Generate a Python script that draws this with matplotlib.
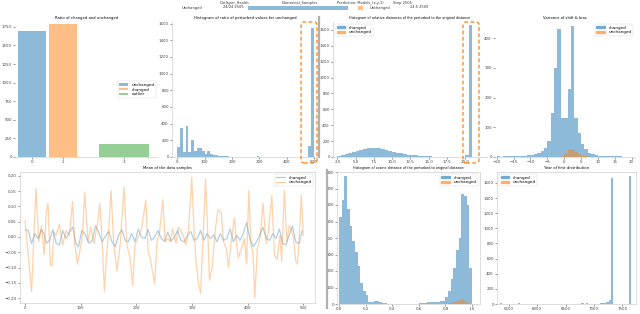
import numpy as np
import matplotlib
matplotlib.use("Agg")
import matplotlib.pyplot as plt
from matplotlib.patches import FancyBboxPatch, Rectangle
from matplotlib.lines import Line2D

plt.rcParams['font.family'] = ['DejaVu Sans']

BLUE = '#1f77b4'
ORANGE = '#ff7f0e'
GREEN = '#2ca02c'

# ---------------- data ----------------
# Panel 1: bar chart
p1_x = [0, 1, 3]
p1_widths = [0.93, 0.9, 1.64]
p1_values = [1695, 1783, 170]
p1_labels = ['unchanged', 'changed', 'outlier']

# Panel 2: histogram (bin width 10, 0..500)
p2_start = 0
p2_width = 10
p2_counts = [121, 345, 62, 368, 62, 200, 70, 110, 103, 75,
             40, 75, 40, 30, 20, 15, 12, 10, 8, 6,
             5, 4, 3, 2, 2, 1, 1, 1, 1, 8,
             5, 0, 0, 0, 0, 0, 0, 0, 0, 0,
             0, 0, 0, 0, 0, 0, 0, 0, 130, 1553]

# Panel 3: histogram (bin width 0.5, 2.5..21)
p3_start = 2.5
p3_width = 0.5
p3_counts = [10, 22, 35, 48, 60, 72, 88, 100, 112, 118,
             115, 108, 100, 88, 78, 65, 55, 45, 36, 30,
             25, 20, 14, 11, 9, 7, 6, 5, 4, 3,
             2, 2, 1, 1, 0, 25, 1660]

# Panel 4: histogram (bin width 1, -20..20)
p4_start = -20
p4_width = 1
p4_changed = [2, 1, 2, 3, 2, 3, 4, 5, 5, 6,
              8, 10, 15, 20, 30, 55, 147, 300, 433, 133,
              133, 230, 440, 133, 80, 45, 27, 15, 10, 7,
              5, 4, 3, 3, 2, 2, 2, 1, 1, 1]
p4_unchanged = [0, 0, 0, 0, 0, 0, 0, 0, 0, 0,
                0, 0, 0, 0, 0, 0, 0, 0, 0, 4,
                10, 22, 27, 18, 10, 5, 3, 0, 0, 0,
                0, 0, 0, 0, 0, 0, 0, 0, 0, 0]

# Panel 5: line series (readings of peaks / troughs)
p5_orange_t = [0, 11.8, 19.5, 24.8, 29.5, 34.2, 38.3, 41.3, 45.4, 48.3, 51.9, 56.0, 61.9, 67.8,
               73.7, 79.6, 85.5, 89.6, 94.3, 97.3, 103.2, 107.3, 113.2, 117.9, 123.8, 129.7,
               134.4, 138.6, 142.7, 146.2, 150.4, 154.5, 159.2, 165.1, 171.0, 178.1, 182.8,
               188.7, 193.4, 197.5, 203.4, 209.3, 217.0, 221.1, 225.2, 232.9, 237.0, 241.7,
               247.6, 251.8, 256.5, 260.6, 265.3, 271.2, 275.4, 280.1, 286.0, 288.9, 293.6,
               299.5, 303.7, 307.8, 311.3, 315.4, 319.6, 324.3, 329.0, 331.4, 336.1, 342.0,
               346.7, 352.6, 356.7, 361.4, 365.6, 370.3, 376.2, 380.3, 383.3, 388.0, 393.9,
               398.0, 402.1, 405.7, 409.8, 412.7, 417.5, 422.2, 427.5, 433.4, 437.5, 443.4,
               448.1, 452.8, 458.1, 461.1, 465.8, 470.5, 474.6, 478.8, 482.3, 486.4, 489.4,
               492.3, 496.5, 500.0]
p5_orange_v = [0.053, -0.179, 0.158, -0.016, 0.037, -0.058, 0.084, 0.111, -0.089, -0.095, 0.016,
               0.005, 0.042, -0.026, 0.021, 0.005, 0.116, -0.026, -0.089, -0.058, 0.005, 0.147,
               -0.016, 0.032, -0.021, 0.037, 0.111, -0.016, -0.179, -0.068, 0.021, 0.153,
               -0.016, -0.111, -0.026, 0.163, -0.026, -0.068, -0.158, -0.026, 0.0, 0.026,
               0.121, -0.047, -0.074, -0.153, -0.016, 0.016, 0.121, -0.016, -0.005, -0.016,
               0.026, -0.021, 0.032, 0.021, -0.005, -0.026, 0.021, 0.195, 0.021, -0.089,
               -0.147, -0.184, -0.016, 0.189, -0.016, -0.142, -0.1, 0.026, 0.089, 0.079,
               -0.016, -0.037, -0.1, -0.016, 0.063, -0.026, -0.068, -0.042, -0.005, -0.089,
               0.153, -0.021, -0.058, -0.2, -0.037, -0.005, 0.111, -0.021, 0.021, 0.137,
               -0.058, -0.074, 0.005, -0.079, 0.153, -0.016, 0.037, 0.021, -0.005, -0.079,
               -0.089, -0.016, 0.137, 0.005]
p5_blue_t = [1.2, 5.9, 11.8, 17.7, 23.6, 29.5, 34.2, 38.3, 44.2, 50.1, 56.0, 61.9, 67.8, 73.7,
             79.6, 85.5, 91.4, 96.1, 102.0, 107.3, 115.0, 120.9, 126.8, 132.7, 138.6, 144.5,
             150.4, 156.3, 162.1, 168.0, 173.9, 179.8, 185.7, 191.6, 197.5, 203.4, 209.3,
             215.2, 221.1, 227.0, 232.9, 238.8, 244.7, 250.6, 256.5, 262.4, 268.3, 274.2,
             280.1, 286.0, 291.9, 297.8, 303.7, 309.6, 315.4, 321.3, 327.2, 333.1, 339.0,
             344.9, 350.8, 356.7, 362.6, 368.5, 374.4, 380.3, 386.2, 392.1, 398.0, 403.9,
             409.8, 415.7, 421.6, 427.5, 433.4, 439.3, 445.2, 451.1, 457.0, 462.9, 468.8,
             474.6, 480.5, 486.4, 492.3, 498.2]
p5_blue_v = [0.023, 0.021, -0.021, 0.011, -0.005, 0.024, 0.011, -0.021, -0.011, 0.024, -0.021,
             -0.026, 0.021, -0.005, 0.016, 0.032, -0.021, -0.032, 0.021, 0.011, -0.021, -0.011,
             0.037, 0.014, -0.016, 0.003, 0.018, -0.016, -0.032, 0.005, 0.024, -0.011, -0.016,
             0.011, -0.016, 0.026, 0.0, -0.005, 0.024, -0.011, 0.0, 0.021, -0.005, -0.014,
             0.016, -0.014, 0.0, 0.021, -0.011, -0.016, 0.005, 0.018, -0.011, -0.005, 0.021,
             -0.011, 0.011, -0.005, 0.007, -0.016, 0.011, -0.011, -0.005, 0.026, -0.016,
             0.005, -0.011, 0.011, 0.047, -0.005, -0.032, -0.016, 0.005, 0.032, -0.005,
             -0.011, 0.011, -0.005, 0.026, -0.021, -0.026, 0.005, 0.037, -0.016, -0.021, 0.021]

# Panel 6: histogram (bin width 0.02, 0..1)
p6_start = 0.0
p6_width = 0.02
p6_changed = [529, 632, 776, 578, 471, 383, 315, 228, 130, 76,
              56, 14, 10, 18, 18, 10, 5, 4, 3, 3,
              2, 3, 2, 2, 3, 2, 2, 3, 3, 2,
              5, 6, 8, 10, 10, 12, 14, 15, 18, 20,
              43, 76, 150, 218, 325, 403, 665, 656, 597, 218]
p6_unchanged = [0] * 40 + [3, 5, 8, 12, 18, 25, 30, 20, 8, 2]

# Panel 7: histogram (bin width 40, 5300..7700)
p7_start = 5300
p7_width = 40
p7_changed = [0, 12, 0, 0, 0, 0, 0, 0, 0, 10,
              0, 0, 0, 0, 0, 0, 0, 0, 0, 0,
              0, 0, 0, 0, 0, 3, 0, 0, 0, 0,
              0, 0, 0, 0, 0, 0, 0, 8, 0, 8,
              0, 0, 0, 0, 0, 10, 12, 18, 30, 50,
              1660, 0, 0, 0, 0, 0, 0, 0, 1690, 0]

# ---------------- figure ----------------
W, H = 640, 314
fig = plt.figure(figsize=(6.4, 3.14), dpi=100)


def rect(l, r, t, b):
    return [l / W, 1 - b / H, (r - l) / W, (b - t) / H]


FS = 2.9
TFS = 2.7


def style(ax, frame=False):
    ax.tick_params(labelsize=FS, length=1.5, width=0.4, pad=0.8, colors='#444444')
    for s in ax.spines.values():
        s.set_color('#d0d0d0')
        s.set_linewidth(0.5)
    if not frame:
        ax.spines['top'].set_visible(False)
        ax.spines['right'].set_visible(False)


def hist(ax, start, width, counts, color):
    edges = start + width * np.arange(len(counts))
    ax.bar(edges, counts, width=width, align='edge', color=color, alpha=0.5,
           linewidth=0)


def legend(ax, labels, loc):
    handles = [Rectangle((0, 0), 1, 1, color=c, alpha=0.5) for c in (BLUE, ORANGE)]
    lg = ax.legend(handles, labels, loc=loc, fontsize=FS, frameon=True,
                   handlelength=2.2, handleheight=0.6, borderpad=0.4,
                   labelspacing=0.2)
    lg.get_frame().set_linewidth(0.3)
    lg.get_frame().set_edgecolor('#cccccc')


def dashed_box(ax, x0, x1, y0, y1):
    p = FancyBboxPatch((x0, y0), x1 - x0, y1 - y0,
                       boxstyle='round,pad=0,rounding_size=0.02',
                       transform=ax.transAxes, fill=False, ec=ORANGE,
                       ls=(0, (3, 2)), lw=0.9, clip_on=False, zorder=5)
    ax.add_patch(p)


# Panel 1
ax1 = fig.add_axes(rect(15, 158, 22, 157))
for x, w, v, c, lab in zip(p1_x, p1_widths, p1_values, (BLUE, ORANGE, GREEN), p1_labels):
    ax1.bar(x, v, width=w, color=c, alpha=0.5, label=lab, linewidth=0)
ax1.set_xlim(-0.55, 4.1)
ax1.set_ylim(0, 1815)
ax1.set_yticks(np.arange(0, 1751, 250))
ax1.set_xticks(p1_x)
ax1.set_title('Ratio of changed and unchanged', fontsize=TFS, pad=2)
lg = ax1.legend(fontsize=FS, loc='center right', handlelength=2.2, handleheight=0.6,
                borderpad=0.4, labelspacing=0.2)
lg.get_frame().set_linewidth(0.3)
style(ax1)
ax1.spines['left'].set_visible(False)

# Panel 2
ax2 = fig.add_axes(rect(172, 318, 22, 157))
hist(ax2, p2_start, p2_width, p2_counts, BLUE)
ax2.set_xlim(-20, 515)
ax2.set_ylim(0, 1620)
ax2.set_yticks(np.arange(0, 1601, 200))
ax2.set_xticks(np.arange(0, 501, 100))
ax2.set_title('Histogram of ratio of perturbed values for unchanged', fontsize=TFS, pad=2)
style(ax2)
dashed_box(ax2, 0.884, 0.993, -0.044, 1.0)

# Panel 3
ax3 = fig.add_axes(rect(333, 487, 22, 157))
hist(ax3, p3_start, p3_width, p3_counts, BLUE)
ax3.set_xlim(1.9, 23)
ax3.set_ylim(0, 1700)
ax3.set_yticks(np.arange(0, 1601, 200))
ax3.set_xticks(np.arange(2.5, 20.1, 2.5))
ax3.set_title('Histogram of relative distances of the perturbed to the original distance',
              fontsize=TFS * 0.92, pad=2)
legend(ax3, ['changed', 'unchanged'], 'upper left')
style(ax3)
dashed_box(ax3, 0.844, 0.948, -0.044, 1.0)

# Panel 4
ax4 = fig.add_axes(rect(495, 635, 22, 157))
hist(ax4, p4_start, p4_width, p4_changed, BLUE)
hist(ax4, p4_start, p4_width, p4_unchanged, ORANGE)
ax4.set_xlim(-20.5, 21)
ax4.set_ylim(0, 455)
ax4.set_yticks(np.arange(0, 401, 100))
ax4.set_xticks(np.arange(-20, 21, 5))
ax4.set_title('Variance of shift & bias', fontsize=TFS, pad=2)
legend(ax4, ['changed', 'unchanged'], 'upper right')
style(ax4)
ax4.spines['left'].set_visible(False)

# Panel 5
ax5 = fig.add_axes(rect(20, 315, 172, 303))
ax5.plot(p5_blue_t, p5_blue_v, color=BLUE, alpha=0.35, lw=0.9, label='changed')
ax5.plot(p5_orange_t, p5_orange_v, color=ORANGE, alpha=0.35, lw=0.9, label='unchanged')
ax5.set_xlim(-9, 521)
ax5.set_ylim(-0.216, 0.2125)
ax5.set_yticks(np.arange(-0.20, 0.201, 0.05))
ax5.set_xticks(np.arange(0, 501, 100))
ax5.set_title('Mean of the data samples', fontsize=TFS, pad=2)
lg = ax5.legend(fontsize=FS, loc='upper right', handlelength=2.2, borderpad=0.4,
                labelspacing=0.2)
lg.get_frame().set_linewidth(0.3)
style(ax5, frame=True)

# Panel 6
ax6 = fig.add_axes(rect(337, 480, 172, 304))
hist(ax6, p6_start, p6_width, p6_changed, BLUE)
hist(ax6, p6_start, p6_width, p6_unchanged, ORANGE)
ax6.set_xlim(-0.015, 1.06)
ax6.set_ylim(0, 800)
ax6.set_yticks(np.arange(0, 801, 100))
ax6.set_xticks(np.arange(0, 1.01, 0.2))
ax6.set_title('Histogram of cosine distance of the perturbed to original distance',
              fontsize=TFS * 0.92, pad=2)
legend(ax6, ['changed', 'unchanged'], 'upper right')
style(ax6, frame=True)

# Panel 7
ax7 = fig.add_axes(rect(497, 636, 172, 304))
hist(ax7, p7_start, p7_width, p7_changed, BLUE)
ax7.set_xlim(5291, 7744)
ax7.set_ylim(0, 1745)
ax7.set_yticks(np.arange(0, 1601, 200))
ax7.set_xticks(np.arange(5500, 7501, 500))
ax7.set_title('Year of first distribution', fontsize=TFS, pad=2)
legend(ax7, ['changed', 'unchanged'], 'upper left')
style(ax7, frame=True)

# separators (gray vertical bars)
fig.add_artist(Line2D([319 / W, 319 / W], [1 - 17 / H, 1 - 157 / H], color='#b0b0b0', lw=1.6))
fig.add_artist(Line2D([327 / W, 327 / W], [1 - 170 / H, 1 - 308 / H], color='#b0b0b0', lw=1.6))

# header
def ftext(x, y, s, **kw):
    fig.text(x / W, 1 - y / H, s, fontsize=2.6, color='#333333', va='center', **kw)

ftext(220, 3, 'Outlayer_Health')
ftext(282, 3, 'Numerical_Samples')
ftext(337, 3, 'Prediction: Models_(x,y,1)')
ftext(393, 3, 'Step 2505')
ftext(182, 7.5, 'Unchanged')
ftext(223, 7.5, '24/24 2505')
ftext(370, 7.5, 'Unchanged')
ftext(410, 7.5, '24.5 2505')
fig.add_artist(Rectangle((248 / W, 1 - 9.5 / H), 100 / W, 4 / H, transform=fig.transFigure,
                         color=BLUE, alpha=0.5, lw=0))
fig.add_artist(Rectangle((358 / W, 1 - 9.5 / H), 5 / W, 4 / H, transform=fig.transFigure,
                         color=ORANGE, alpha=0.5, lw=0))

fig.savefig('out.png', dpi=100)
